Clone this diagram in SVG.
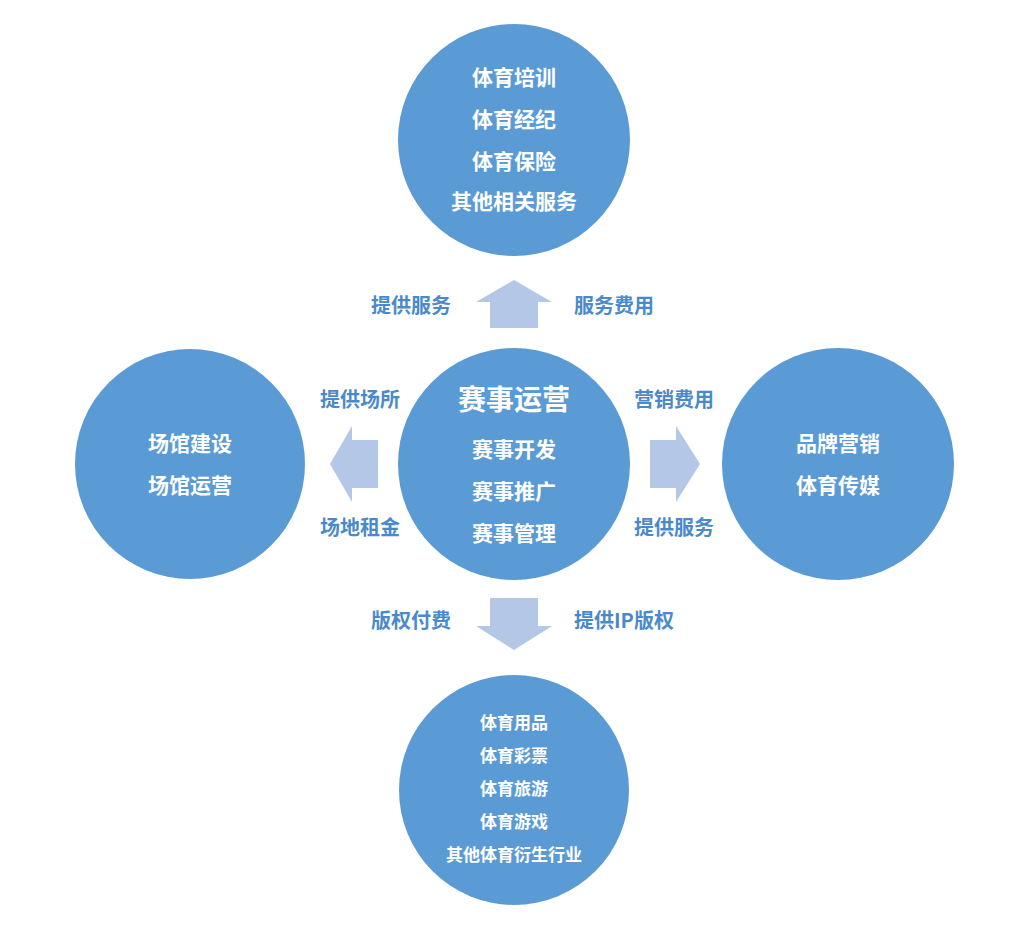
<svg xmlns="http://www.w3.org/2000/svg" width="1024" height="927" viewBox="0 0 1024 927">
<style>
.c{fill:#5b9bd5}
.a{fill:#b4c7e7}
text{font-family:"Noto Sans CJK SC","Liberation Sans",sans-serif;font-weight:bold;text-anchor:middle;dominant-baseline:central}
.w{fill:#fff;font-size:21px}
.s{fill:#fff;font-size:17px}
.l{fill:#4a8acb;font-size:20px}
</style>
<rect width="1024" height="927" fill="#fff"/>
<g id="connectors">
<polygon class="a" points="514,280 552,302 538,302 538,328 490,328 490,302 476,302"/>
<polygon class="a" points="514,650 552,626 538,626 538,598 490,598 490,626 476,626"/>
<polygon class="a" points="330,464 352,426 352,440 378,440 378,488 352,488 352,502"/>
<polygon class="a" points="700,464 676,426 676,440 650,440 650,488 676,488 676,502"/>
<text class="l" x="411" y="304">提供服务</text>
<text class="l" x="614" y="304">服务费用</text>
<text class="l" x="360" y="398">提供场所</text>
<text class="l" x="360" y="526">场地租金</text>
<text class="l" x="674" y="398">营销费用</text>
<text class="l" x="674" y="526">提供服务</text>
<text class="l" x="411" y="619">版权付费</text>
<text class="l" x="624" y="619">提供IP版权</text>
</g>
<g id="top"><circle class="c" cx="514" cy="140" r="116"/>
<text class="w" x="514" y="76">体育培训</text><text class="w" x="514" y="118">体育经纪</text><text class="w" x="514" y="160">体育保险</text><text class="w" x="514" y="200">其他相关服务</text></g>
<g id="center"><circle class="c" cx="514" cy="464" r="116"/>
<text class="w" x="514" y="398" style="font-size:28px">赛事运营</text><text class="w" x="514" y="448">赛事开发</text><text class="w" x="514" y="490">赛事推广</text><text class="w" x="514" y="532">赛事管理</text></g>
<g id="left"><circle class="c" cx="190" cy="464" r="115"/>
<text class="w" x="190" y="442">场馆建设</text><text class="w" x="190" y="484">场馆运营</text></g>
<g id="right"><circle class="c" cx="838" cy="464" r="116"/>
<text class="w" x="838" y="442">品牌营销</text><text class="w" x="838" y="484">体育传媒</text></g>
<g id="bottom"><circle class="c" cx="514" cy="790" r="115"/>
<text class="s" x="514" y="721">体育用品</text><text class="s" x="514" y="754">体育彩票</text><text class="s" x="514" y="787">体育旅游</text><text class="s" x="514" y="820">体育游戏</text><text class="s" x="514" y="853">其他体育衍生行业</text></g>
</svg>
